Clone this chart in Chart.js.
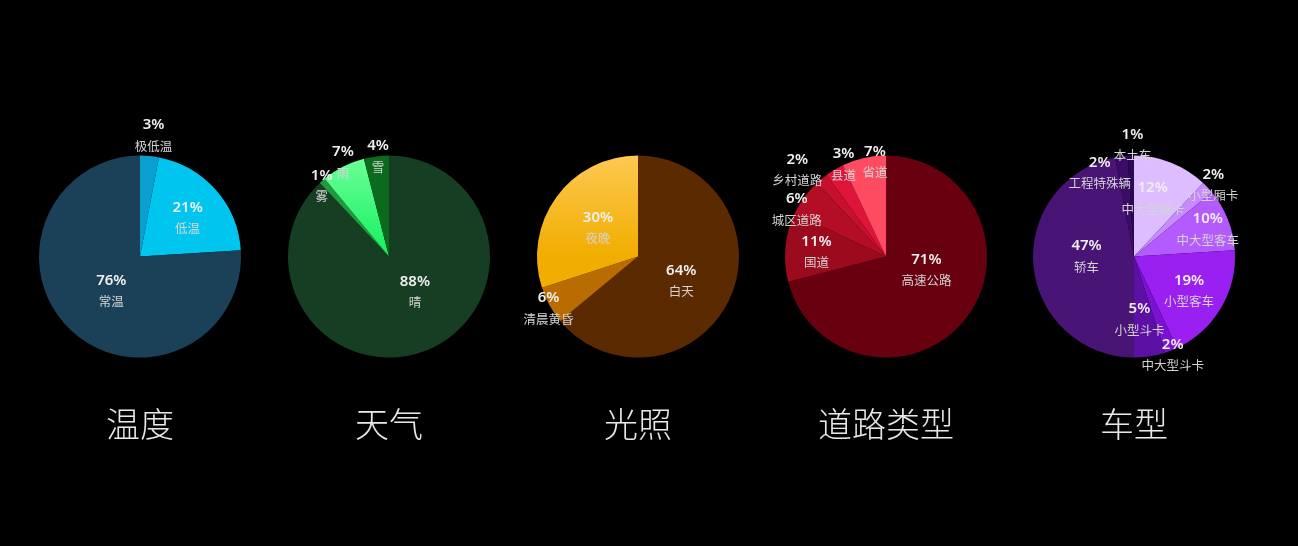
<!DOCTYPE html>
<html>
<head>
<meta charset="utf-8">
<script src="https://cdn.jsdelivr.net/npm/chart.js@4/dist/chart.umd.min.js"></script>
<style>
  html, body { margin: 0; padding: 0; background: #000; }
  body { width: 1298px; height: 546px; position: relative; overflow: hidden; }
  .box { position: absolute; top: 100px; width: 248px; height: 344px; }
</style>
</head>
<body>
<div class="box" style="left:16px"><canvas id="c0" width="248" height="344"></canvas></div>
<div class="box" style="left:265px"><canvas id="c1" width="248" height="344"></canvas></div>
<div class="box" style="left:514px"><canvas id="c2" width="248" height="344"></canvas></div>
<div class="box" style="left:762px"><canvas id="c3" width="248" height="344"></canvas></div>
<div class="box" style="left:1010px"><canvas id="c4" width="248" height="344"></canvas></div>
<script>
// chart data (percent)
const titles = ['温度', '天气', '光照', '道路类型', '车型'];

const tempLabels = ['极低温', '低温', '常温'];
const tempValues = [3, 21, 76];

const weatherLabels = ['晴', '雾', '雨', '雪'];
const weatherValues = [88, 1, 7, 4];

const lightLabels = ['白天', '清晨黄昏', '夜晚'];
const lightValues = [64, 6, 30];

const roadLabels = ['高速公路', '国道', '城区道路', '乡村道路', '县道', '省道'];
const roadValues = [71, 11, 6, 2, 3, 7];

const carLabels = ['中大型厢卡', '小型厢卡', '中大型客车', '小型客车', '中大型斗卡', '小型斗卡', '轿车', '工程特殊辆', '本土车'];
const carValues = [12, 2, 10, 19, 2, 5, 47, 2, 1];

// slice colours, a [top, bottom] pair means a vertical gradient
const tempColors = ['#0a9fd0', '#00c6ef', '#1b4159'];
const weatherColors = ['#163e22', '#1f9a3e', ['#6dff98', '#15f060'], '#0a6a1d'];
const lightColors = ['#5b2a00', '#b96c00', ['#fdc951', '#f1ad00']];
const roadColors = ['#68000f', '#9c0a1d', '#b40d26', '#c6102d', '#de1539', '#ff4b61'];
const carColors = ['#ddbcff', '#c88bff', '#b35bff', '#9a1ff1', '#7a12d2', '#5c10a4', '#481476', '#3b0d67', '#2b0952'];

// where each label sits: [radius factor, angle nudge in degrees]
const tempPlace = [[1.21, 1], [0.61, 2], [0.44, -3]];
const weatherPlace = [[0.43, -15], [0.97, -2], [1.04, 1], [1.0, 1]];
const lightPlace = [[0.49, 4], [1.02, -1], [0.49, 0]];
const roadPlace = [[0.42, -20], [0.69, -1], [1.0, -8], [1.23, -6], [1.01, 6], [0.95, 6]];
const carPlace = [[0.61, -4], [1.06, 1], [0.78, 1], [0.64, 1], [1.04, 0], [0.62, 4], [0.47, 6], [0.9, -15], [1.11, 1]];

const sliceLabels = {
    id: 'sliceLabels',
    afterDatasetsDraw(chart, args, opts) {
        const ctx = chart.ctx;
        const meta = chart.getDatasetMeta(0);
        const ds = chart.data.datasets[0];
        ctx.save();
        ctx.textAlign = 'center';
        ctx.textBaseline = 'middle';
        meta.data.forEach((arc, i) => {
            const p = opts.place[i];
            const mid = (arc.startAngle + arc.endAngle) / 2 + p[1] * Math.PI / 180;
            const r = arc.outerRadius * p[0];
            const x = arc.x + Math.cos(mid) * r;
            const y = arc.y + Math.sin(mid) * r;
            ctx.fillStyle = '#f0f0f0';
            ctx.font = '600 15px "Noto Sans", "Liberation Sans", sans-serif';
            ctx.fillText(ds.data[i] + '%', x, y - 10);
            ctx.fillStyle = '#d4d4d4';
            ctx.font = '12.5px "Noto Sans CJK SC", sans-serif';
            ctx.fillText(chart.data.labels[i], x, y + 11);
        });
        ctx.restore();
    }
};

function fillFor(colors) {
    return function (c) {
        const col = colors[c.dataIndex];
        if (!Array.isArray(col)) return col;
        const area = c.chart.chartArea;
        if (!area) return col[1];
        const g = c.chart.ctx.createLinearGradient(0, area.top, 0, area.bottom);
        g.addColorStop(0, col[0]);
        g.addColorStop(0.5, col[1]);
        g.addColorStop(1, col[1]);
        return g;
    };
}

function makePie(id, title, labels, values, colors, place) {
    return new Chart(document.getElementById(id), {
        type: 'pie',
        data: {
            labels: labels,
            datasets: [{
                data: values,
                backgroundColor: fillFor(colors),
                borderWidth: 0
            }]
        },
        options: {
            responsive: false,
            animation: false,
            layout: { padding: { top: 55, left: 23, right: 23, bottom: 0 } },
            plugins: {
                legend: { display: false },
                tooltip: { enabled: false },
                title: {
                    display: true,
                    text: title,
                    position: 'bottom',
                    color: '#e8e8e8',
                    font: { size: 34, weight: '300', family: '"Noto Sans CJK SC", sans-serif' },
                    padding: { top: 45, bottom: 0 }
                },
                sliceLabels: { place: place }
            }
        },
        plugins: [sliceLabels]
    });
}

makePie('c0', titles[0], tempLabels, tempValues, tempColors, tempPlace);
makePie('c1', titles[1], weatherLabels, weatherValues, weatherColors, weatherPlace);
makePie('c2', titles[2], lightLabels, lightValues, lightColors, lightPlace);
makePie('c3', titles[3], roadLabels, roadValues, roadColors, roadPlace);
makePie('c4', titles[4], carLabels, carValues, carColors, carPlace);
</script>
</body>
</html>
